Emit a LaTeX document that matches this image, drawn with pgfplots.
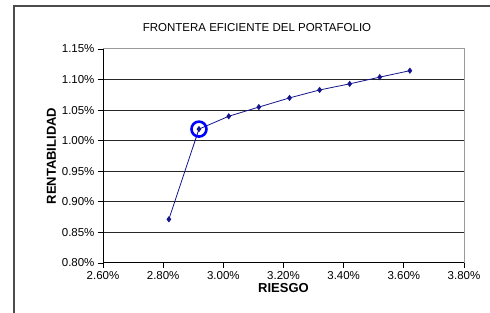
\documentclass[border=0pt]{standalone}
\usepackage{pgfplots}
\pgfplotsset{compat=1.18}
\usepackage{fontspec}
\setmainfont{Liberation Sans}
\definecolor{navyline}{RGB}{20,20,140}
\definecolor{circblue}{RGB}{0,0,255}
\begin{document}
\begin{tikzpicture}[x=1pt,y=1pt]
\path[use as bounding box] (0,0) rectangle (490,313);
\draw[line width=1.3pt, black!70] (14,0) -- (14,307) -- (490,307);
\node[font=\fontsize{11.5}{13}\selectfont] at (257,285) {FRONTERA EFICIENTE DEL PORTAFOLIO};
\begin{axis}[
  at={(103pt,50pt)}, anchor=south west,
  scale only axis, width=361pt, height=214pt,
  xmin=2.6, xmax=3.8, ymin=0.8, ymax=1.15,
  xtick={2.6,2.8,3.0,3.2,3.4,3.6,3.8},
  ytick={0.8,0.85,0.9,0.95,1.0,1.05,1.1,1.15},
  xticklabels={2.60\%,2.80\%,3.00\%,3.20\%,3.40\%,3.60\%,3.80\%},
  yticklabels={0.80\%,0.85\%,0.90\%,0.95\%,1.00\%,1.05\%,1.10\%,1.15\%},
  ticklabel style={font=\fontsize{11.5}{13}\selectfont},
  tick align=outside, tick pos=left,
  major tick length=5pt,
  tick style={black, line width=0.8pt},
  ymajorgrids, grid style={black!85, line width=1pt},
  axis line style={draw=none},
  xlabel={\textbf{RIESGO}}, ylabel={\textbf{RENTABILIDAD}},
  label style={font=\fontsize{13}{15}\selectfont},
  xlabel style={yshift=3pt},
  ylabel style={yshift=-1pt},
  clip=false,
]
\draw[black!40, line width=1pt] (rel axis cs:0,1) -- (rel axis cs:1,1) -- (rel axis cs:1,0);
\draw[black, line width=1pt] (rel axis cs:0,1) -- (rel axis cs:0,0) -- (rel axis cs:1,0);
\addplot[navyline, line width=0.8pt, mark=diamond*, mark size=2.5pt, mark options={fill=navyline, draw=navyline}] coordinates {
(2.819,0.8715) (2.919,1.019) (3.018,1.040) (3.118,1.055) (3.220,1.070) (3.320,1.083) (3.420,1.093) (3.520,1.104) (3.620,1.1145)
};
\addplot[only marks, mark=o, mark size=7.5pt, mark options={draw=circblue, line width=2.6pt}] coordinates {(2.919,1.019)};
\end{axis}
\end{tikzpicture}
\end{document}
